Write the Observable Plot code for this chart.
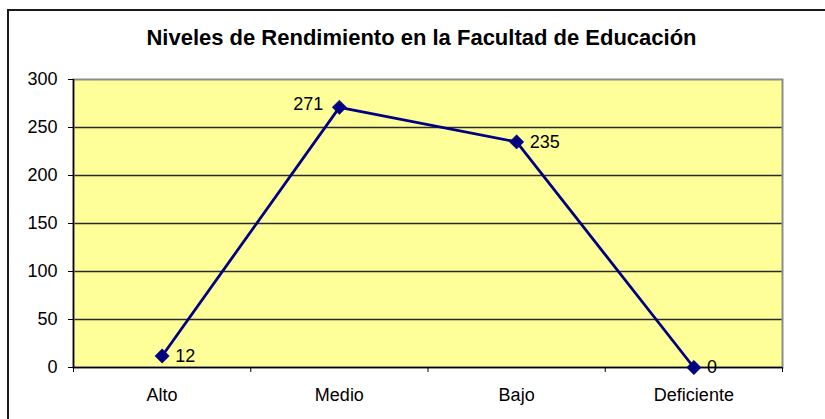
<!DOCTYPE html>
<html>
<head>
<meta charset="utf-8">
<script src="https://cdn.jsdelivr.net/npm/d3@7"></script>
<script src="https://cdn.jsdelivr.net/npm/@observablehq/plot@0.6"></script>
<style>
  html, body { margin: 0; padding: 0; background: #fff; overflow: hidden; }
  #wrap { position: relative; width: 825px; height: 419px; overflow: hidden; font-family: "Liberation Sans", Arial, sans-serif; }
  #frame { position: absolute; left: 7px; top: 9px; width: 900px; height: 500px; border-left: 2px solid #1a1a1a; border-top: 2px solid #1a1a1a; box-sizing: border-box; }
  #title { position: absolute; left: 0; top: 26px; width: 825px; padding-left: 18px; box-sizing: border-box; text-align: center; font-weight: bold; font-size: 22px; line-height: 24px; color: #000; margin: 0; }
  #chart { position: absolute; left: 0; top: 0; }
</style>
</head>
<body>
<div id="wrap">
  <div id="frame"></div>
  <div id="chart"></div>
  <h2 id="title">Niveles de Rendimiento en la Facultad de Educación</h2>
</div>
<script>
const categories = ["Alto", "Medio", "Bajo", "Deficiente"];
const values = [12, 271, 235, 0];
const yTicks = [0, 50, 100, 150, 200, 250, 300];
const leftLabeled = ["Medio"];

const data = categories.map((c, i) => ({cat: c, xi: i + 0.5, v: values[i]}));
const boundaries = d3.range(categories.length + 1);
const centers = categories.map((c, i) => i + 0.5);

const chart = Plot.plot({
  width: 825,
  height: 419,
  marginLeft: 73,
  marginRight: 43,
  marginTop: 79,
  marginBottom: 52,
  style: {fontFamily: "'Liberation Sans', Arial, sans-serif", background: "transparent", color: "#000"},
  x: {type: "linear", domain: [0, categories.length]},
  y: {domain: [0, 300]},
  marks: [
    Plot.frame({fill: "#FFFF99", stroke: "none"}),
    Plot.ruleY(yTicks.filter(t => t > 0 && t < 300), {stroke: "#2a2a2a", strokeWidth: 1.3}),
    Plot.frame({stroke: "#8c8c8c", strokeWidth: 2, fill: "none"}),
    Plot.ruleY([0], {stroke: "#000", strokeWidth: 1.5}),
    Plot.ruleX([0], {stroke: "#000", strokeWidth: 1.5}),
    Plot.axisY({ticks: yTicks, tickSize: 5, tickPadding: 11, fontSize: 18, label: null, tickFormat: d => String(d)}),
    Plot.axisX({ticks: boundaries, tickSize: 5, tickFormat: () => "", label: null}),
    Plot.axisX({ticks: centers, tickSize: 0, tickPadding: 21, fontSize: 18, label: null,
      tickFormat: d => categories[Math.round(d - 0.5)]}),
    Plot.line(data, {x: "xi", y: "v", stroke: "#000080", strokeWidth: 2.8}),
    Plot.dot(data, {x: "xi", y: "v", symbol: "diamond2", r: 6.5, fill: "#000080", stroke: "#000080", strokeWidth: 0.5}),
    Plot.text(data.filter(d => !leftLabeled.includes(d.cat)), {x: "xi", y: "v", text: d => String(d.v), dx: 13, textAnchor: "start", fontSize: 18, fill: "#000"}),
    Plot.text(data.filter(d => leftLabeled.includes(d.cat)), {x: "xi", y: "v", text: d => String(d.v), dx: -16, dy: -3, textAnchor: "end", fontSize: 18, fill: "#000"})
  ]
});
document.getElementById("chart").appendChild(chart);
</script>
</body>
</html>
